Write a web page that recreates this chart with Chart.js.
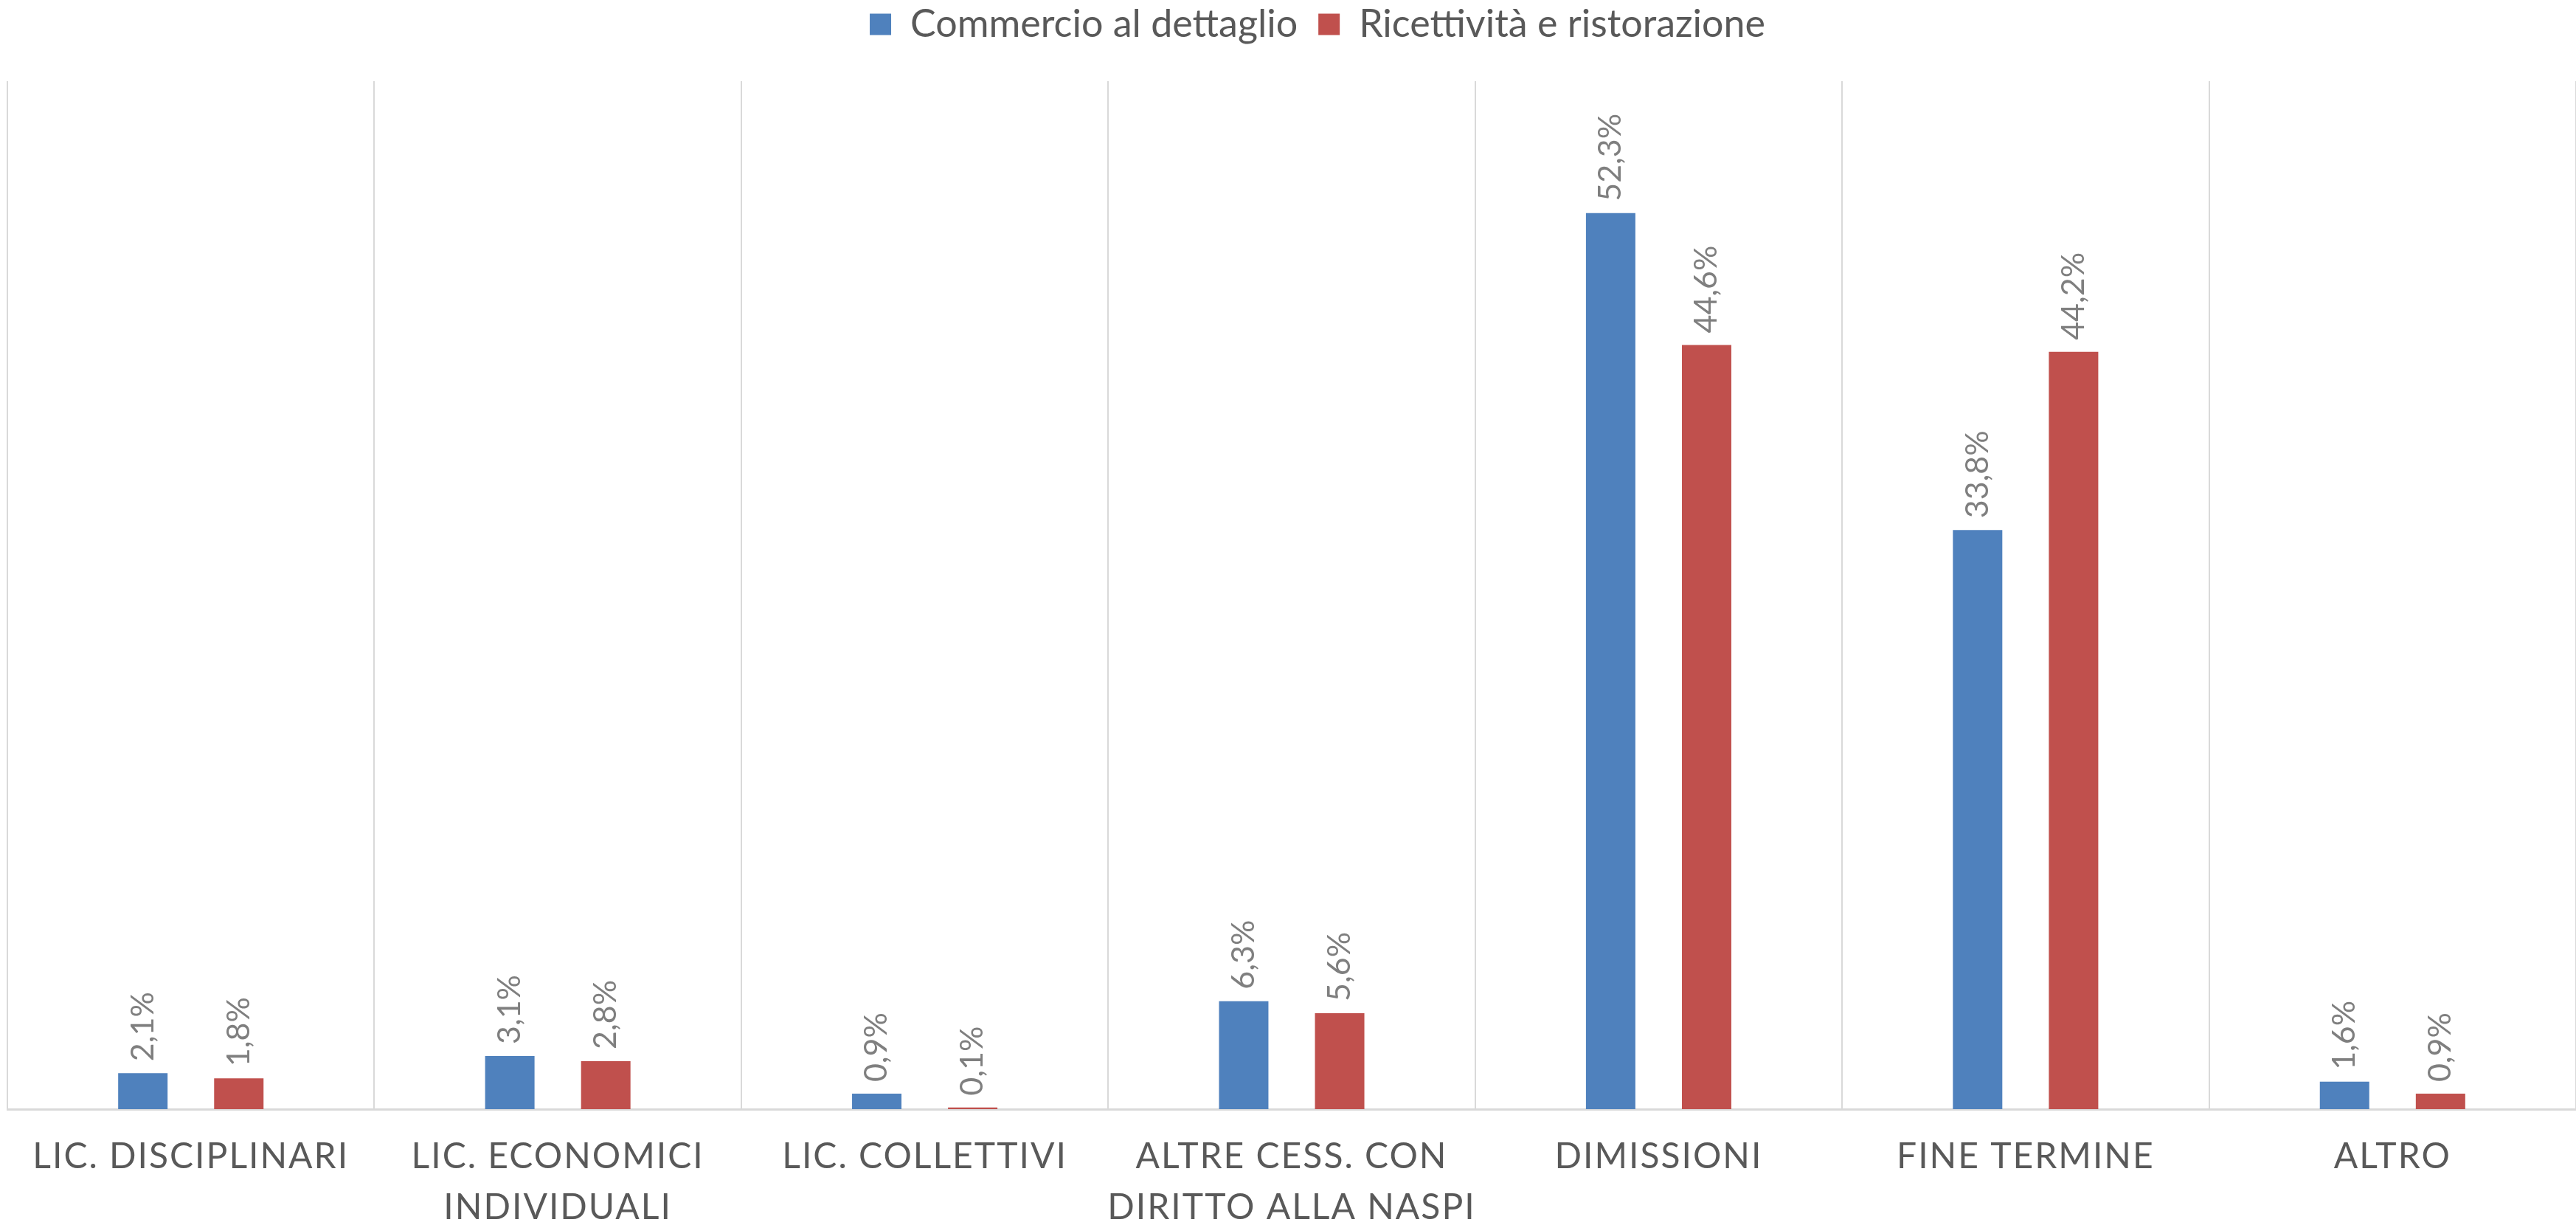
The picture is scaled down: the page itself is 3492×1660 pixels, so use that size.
<!DOCTYPE html>
<html>
<head>
<meta charset="utf-8">
<script src="https://cdn.jsdelivr.net/npm/chart.js@4.4.1/dist/chart.umd.min.js"></script>
<style>
  html, body { margin: 0; padding: 0; background: #ffffff; }
  #wrap { width: 3492px; height: 1660px; position: relative; }
</style>
</head>
<body>
<div id="wrap"><canvas id="c"></canvas></div>
<script>
const categories = [
  "LIC. DISCIPLINARI",
  ["LIC. ECONOMICI", "INDIVIDUALI"],
  "LIC. COLLETTIVI",
  ["ALTRE CESS. CON", "DIRITTO ALLA NASPI"],
  "DIMISSIONI",
  "FINE TERMINE",
  "ALTRO"
];
const seriesNames = ["Commercio al dettaglio", "Ricettività e ristorazione"];
const commercio = [2.1, 3.1, 0.9, 6.3, 52.3, 33.8, 1.6];
const ricettivita = [1.8, 2.8, 0.1, 5.6, 44.6, 44.2, 0.9];
const yMin = 0;
const yMax = 60;

const FONT = "Lato, 'Open Sans', sans-serif";

function fmt(v) { return v.toFixed(1).replace('.', ',') + '%'; }

const valueLabels = {
  id: 'valueLabels',
  afterDatasetsDraw(chart) {
    const ctx = chart.ctx;
    ctx.save();
    ctx.fillStyle = '#7f7f7f';
    ctx.font = "43px " + FONT;
    ctx.textAlign = 'left';
    ctx.textBaseline = 'middle';
    chart.data.datasets.forEach((ds, di) => {
      const meta = chart.getDatasetMeta(di);
      meta.data.forEach((el, i) => {
        ctx.save();
        ctx.translate(el.x, el.y - 16);
        ctx.rotate(-Math.PI / 2);
        ctx.fillText(fmt(ds.data[i]), 0, 0);
        ctx.restore();
      });
    });
    ctx.restore();
  }
};

const legendSpacer = {
  id: 'legendSpacer',
  beforeInit(chart) {
    const orig = chart.legend.fit;
    chart.legend.fit = function () {
      orig.call(this);
      this.height += 41;
    };
  },
  afterLayout(chart) {
    chart.legend.left += 33;
    chart.legend.right += 33;
  }
};

const tickSpacing = {
  id: 'tickSpacing',
  afterLayout(chart) {
    const s = chart.scales.x;
    if (s && !s._spaced) {
      const orig = s.drawLabels;
      s.drawLabels = function (area) {
        this.ctx.save();
        this.ctx.letterSpacing = '2px';
        orig.call(this, area);
        this.ctx.restore();
      };
      s._spaced = true;
    }
  }
};

new Chart(document.getElementById('c'), {
  type: 'bar',
  data: {
    labels: categories,
    datasets: [
      { label: seriesNames[0], data: commercio, backgroundColor: '#4f81bd', categoryPercentage: 0.523, barPercentage: 0.515 },
      { label: seriesNames[1], data: ricettivita, backgroundColor: '#c0504d', categoryPercentage: 0.523, barPercentage: 0.515 }
    ]
  },
  options: {
    responsive: true,
    maintainAspectRatio: false,
    animation: false,
    devicePixelRatio: 1,
    layout: { padding: { left: 10, right: -4, top: -21, bottom: 0 } },
    plugins: {
      tooltip: { enabled: false },
      legend: {
        position: 'top',
        align: 'center',
        labels: {
          boxWidth: 29,
          boxHeight: 29,
          padding: 28,
          color: '#595959',
          font: { family: FONT, size: 52 }
        }
      }
    },
    scales: {
      x: {
        grid: { display: true, offset: true, color: '#d9d9d9', lineWidth: 2, drawTicks: false },
        border: { display: true, color: '#d9d9d9', width: 3 },
        ticks: {
          color: '#595959',
          padding: 30,
          maxRotation: 0,
          autoSkip: false,
          font: { family: FONT, size: 48, lineHeight: 1.44 }
        },
        afterFit(scale) { scale.height = 157; }
      },
      y: {
        display: false,
        min: yMin,
        max: yMax
      }
    }
  },
  plugins: [valueLabels, legendSpacer, tickSpacing]
});
</script>
</body>
</html>
